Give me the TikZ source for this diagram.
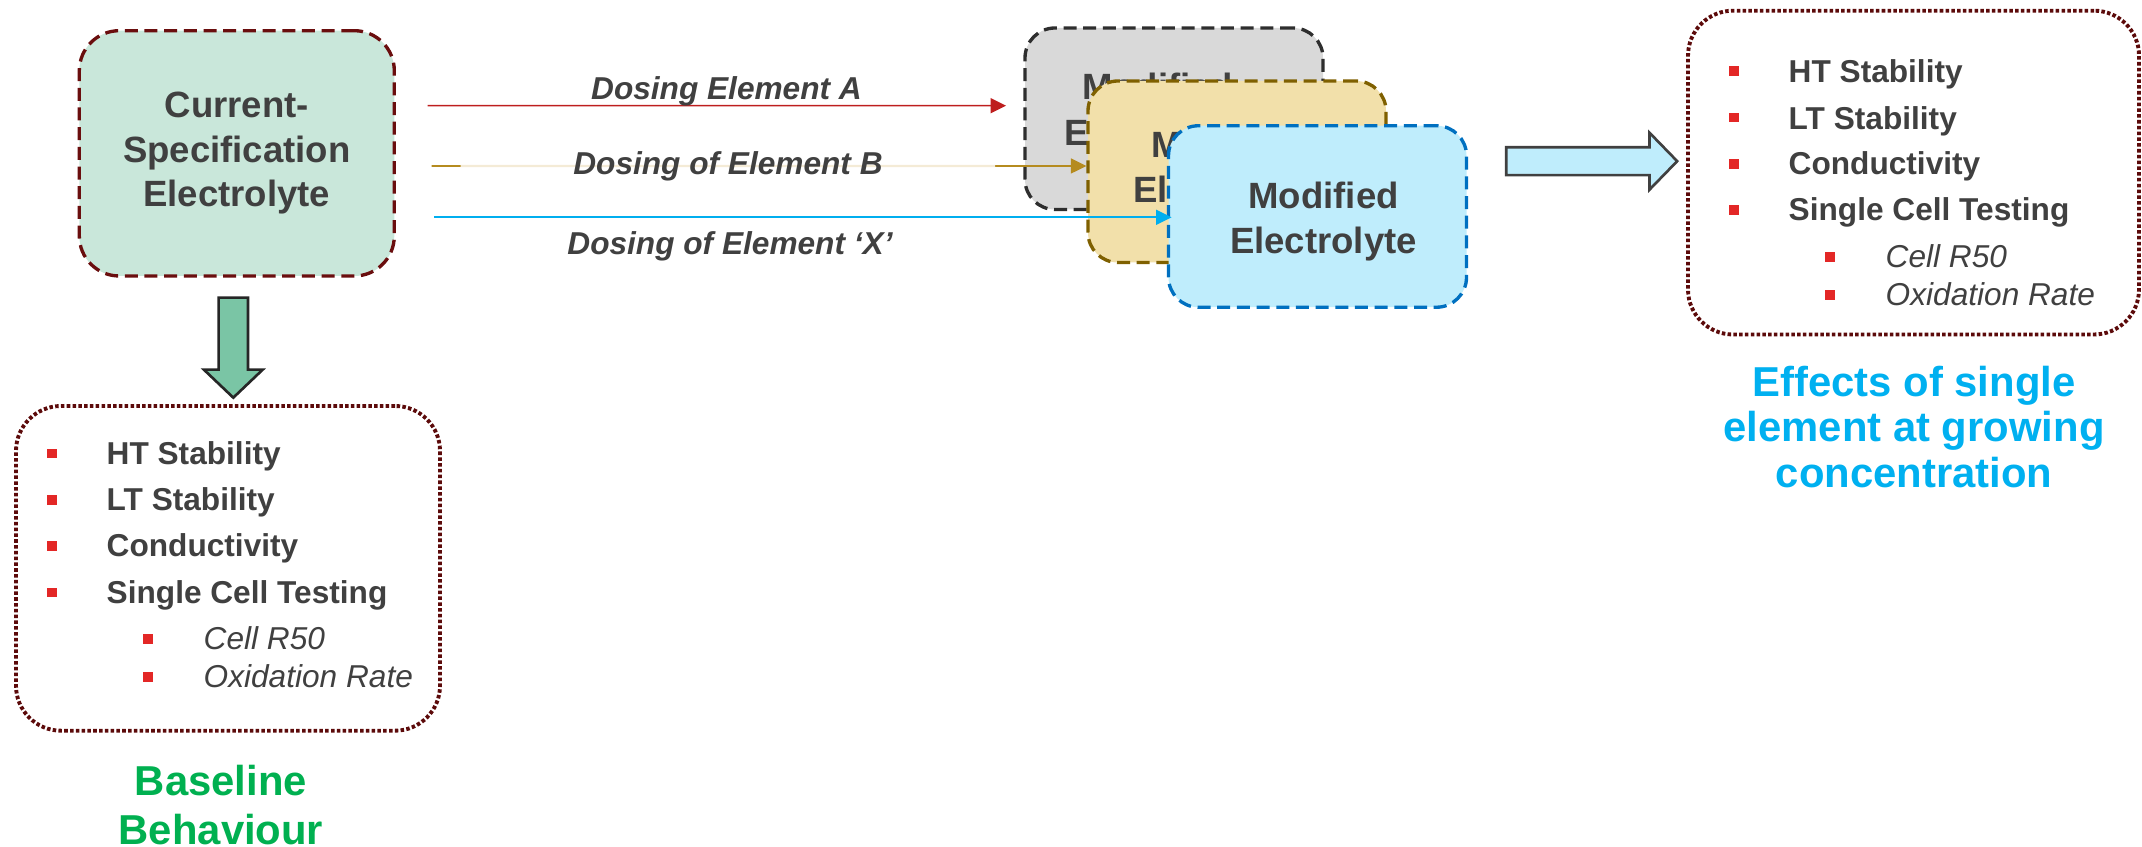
\documentclass[tikz,border=0pt]{standalone}
\usepackage{fontspec}
\setmainfont{Liberation Sans}
\usetikzlibrary{arrows.meta, positioning, calc}

\definecolor{curfill}{HTML}{C9E7DA}
\definecolor{curline}{HTML}{6A0E0E}
\definecolor{greyfill}{HTML}{D9D9D9}
\definecolor{greyline}{HTML}{2E2E2E}
\definecolor{goldfill}{HTML}{F2E0AA}
\definecolor{goldline}{HTML}{7F6000}
\definecolor{bluefill}{HTML}{BFEDFC}
\definecolor{blueline}{HTML}{0070C0}
\definecolor{doseA}{HTML}{BE1E1E}
\definecolor{doseB}{HTML}{B58B1F}
\definecolor{dosepale}{HTML}{F4EBD6}
\definecolor{doseX}{HTML}{00AEEF}
\definecolor{txtgray}{HTML}{404040}
\definecolor{bulletred}{HTML}{E32726}
\definecolor{listline}{HTML}{5C0A0A}
\definecolor{greenarrow}{HTML}{7AC5A5}
\definecolor{arrowline}{HTML}{262626}
\definecolor{arrowgrey}{HTML}{404040}
\definecolor{basegreen}{HTML}{00B050}
\definecolor{effectblue}{HTML}{00B0F0}

\begin{document}
\begin{tikzpicture}[
    box/.style={draw, rectangle, rounded corners=0.3cm, line width=0.95pt, dash pattern=on 3.7pt off 1.9pt, minimum width=2.98cm, minimum height=1.815cm, inner sep=0pt},
    boxtext/.style={align=center, text=txtgray, font=\fontsize{10.4}{12.9}\selectfont\bfseries},
    listbox/.style={draw=listline, rectangle, rounded corners=0.45cm, line width=1.1pt, dash pattern=on 1pt off 0.65pt, inner sep=0pt},
    item/.style={anchor=base west, inner sep=0pt, text=txtgray, font=\fontsize{9}{11}\selectfont\bfseries},
    subitem/.style={item, font=\fontsize{9}{11}\selectfont\itshape},
    bullet/.style={rectangle, fill=bulletred, inner sep=0pt, minimum size=0.095cm},
    dose/.style={line width=0.45pt, -{Triangle[length=1.55mm, width=1.5mm]}},
    dose text/.style={anchor=base, inner sep=0pt, text=txtgray, font=\fontsize{9}{11}\selectfont\bfseries\itshape},
    block/.style={line width=0.75pt, line join=miter},
    caption/.style={align=center, font=\fontsize{11.9}{13.9}\selectfont\bfseries}
]
\useasboundingbox (0,0) rectangle (21.42,-8.47);

% Electrolyte boxes
\node[box, fill=curfill, draw=curline, minimum width=3.15cm, minimum height=2.453cm, rounded corners=0.4cm, boxtext, font=\fontsize{10.4}{12.7}\selectfont\bfseries] (cur) at (2.368,-1.5335) {Current-\\Specification\\Electrolyte};

\node[box, fill=greyfill, draw=greyline] (modA) at (11.74,-1.1875) {};
\node[boxtext] (modAtext) at ($(modA)+(-0.16,0.058)$) {Modified\\Electrolyte};
\node[box, fill=goldfill, draw=goldline] (modB) at (12.37,-1.7175) {};
\node[boxtext] (modBtext) at ($(modB)+(-0.10,0.014)$) {Modified\\Electrolyte};
\node[box, fill=bluefill, draw=blueline] (modX) at (13.175,-2.165) {};
\node[boxtext] (modXtext) at ($(modX)+(0.06,-0.052)$) {Modified\\Electrolyte};

% Dosing arrows
\draw[dose, doseA] ($(cur.east)+(0.317,0.4765)$) -- ($(modA.west)+(-0.173,0.1305)$);
\draw[dose, doseB] ($(cur.east)+(0.357,-0.1265)$) -- ($(modB.west)+(0,0.0575)$);
\draw[line width=0.6pt, dosepale] ($(cur.east)+(0.647,-0.1265)$) -- ($(modB.west)+(-0.913,0.0575)$);
\draw[dose, doseX] ($(cur.east)+(0.384,-0.6395)$) -- ($(modX.west)+(0.047,-0.008)$);

\node[dose text] (doseAtext) at (7.265,-0.993) {Dosing Element A};
\node[dose text] (doseBtext) at (7.28,-1.75) {Dosing of Element B};
\node[dose text] (doseXtext) at (7.30,-2.55) {Dosing of Element ‘X’};

% Block arrows
\coordinate (downtail) at ($(cur.south)+(-0.035,-0.20)$);
\draw[block, draw=arrowline, fill=greenarrow] (downtail) ++(-0.147,0) -- ++(0.294,0) -- ++(0,-0.72) -- ++(0.147,0) -- ++(-0.294,-0.28) -- ++(-0.294,0.28) -- ++(0.147,0) -- cycle;

\coordinate (righttail) at ($(modX.east)+(0.38,0.553)$);
\draw[block, draw=arrowgrey, fill=bluefill] (righttail) ++(0,0.139) -- ++(1.433,0) -- ++(0,0.146) -- ++(0.277,-0.285) -- ++(-0.277,-0.285) -- ++(0,0.146) -- ++(-1.433,0) -- cycle;

% Baseline list
\node[listbox, minimum width=4.24cm, minimum height=3.247cm] (base) at (2.28,-5.6835) {};
\node[bullet] (bb1) at (0.52,-4.533) {};
\node[item] (bt1) at (1.06,-4.643) {HT Stability};
\node[bullet] (bb2) at (0.52,-5.00) {};
\node[item] (bt2) at (1.06,-5.11) {LT Stability};
\node[bullet] (bb3) at (0.52,-5.46) {};
\node[item] (bt3) at (1.06,-5.57) {Conductivity};
\node[bullet] (bb4) at (0.52,-5.927) {};
\node[item] (bt4) at (1.06,-6.035) {Single Cell Testing};
\node[bullet] (bb5) at (1.48,-6.39) {};
\node[subitem] (bt5) at (2.03,-6.50) {Cell R50};
\node[bullet] (bb6) at (1.48,-6.77) {};
\node[subitem] (bt6) at (2.03,-6.877) {Oxidation Rate};

% Effects list
\node[listbox, minimum width=4.51cm, minimum height=3.238cm] (effects) at (19.135,-1.726) {};
\node[bullet] (eb1) at (17.34,-0.71) {};
\node[item] (et1) at (17.88,-0.827) {HT Stability};
\node[bullet] (eb2) at (17.34,-1.177) {};
\node[item] (et2) at (17.88,-1.293) {LT Stability};
\node[bullet] (eb3) at (17.34,-1.64) {};
\node[item] (et3) at (17.88,-1.75) {Conductivity};
\node[bullet] (eb4) at (17.34,-2.10) {};
\node[item] (et4) at (17.88,-2.21) {Single Cell Testing};
\node[bullet] (eb5) at (18.30,-2.57) {};
\node[subitem] (et5) at (18.85,-2.677) {Cell R50};
\node[bullet] (eb6) at (18.30,-2.95) {};
\node[subitem] (et6) at (18.85,-3.057) {Oxidation Rate};

% Captions
\node[caption, text=basegreen] (basetext) at (2.21,-8.05) {Baseline\\Behaviour};
\node[caption, text=effectblue, font=\fontsize{11.9}{13}\selectfont\bfseries] (efftext) at (19.14,-4.27) {Effects of single\\element at growing\\concentration};

\end{tikzpicture}
\end{document}
